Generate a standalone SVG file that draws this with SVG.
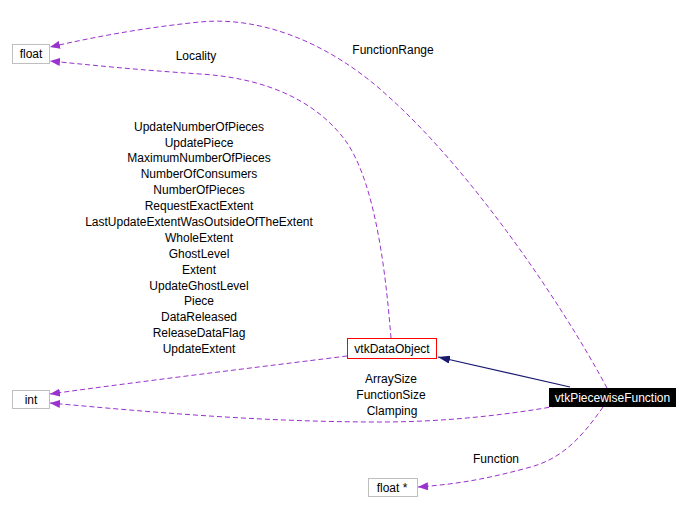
<svg xmlns="http://www.w3.org/2000/svg" width="693" height="513" viewBox="0 0 693 513">
<defs>
<style>
text{font-family:"Liberation Sans",Arial,sans-serif;font-size:12px;fill:#000;text-anchor:middle}
.box{fill:#fff;stroke:#bfbfbf;stroke-width:1}
.dash{fill:none;stroke:#9a32cd;stroke-width:1;stroke-dasharray:5,3}
.solid{fill:none;stroke:#191970;stroke-width:1.2}
</style>
<marker id="pa" viewBox="0 0 10 8" refX="10" refY="4" markerWidth="10" markerHeight="8" markerUnits="userSpaceOnUse" orient="auto"><path d="M0,0 L10,4 L0,8 Z" fill="#9a32cd"/></marker>
<marker id="na" viewBox="0 0 12 8" refX="12" refY="4" markerWidth="12" markerHeight="8" markerUnits="userSpaceOnUse" orient="auto"><path d="M0,0 L12,4 L0,8 Z" fill="#191970"/></marker>
</defs>
<rect width="693" height="513" fill="#fff"/>
<g id="connectors">
<path class="solid" d="M570,387 L438,357" marker-end="url(#na)"/>
<path class="dash" d="M607,388 C560,300 470,170 390,98 C330,42 260,16 200,22 C140,28 90,38 50,47" marker-end="url(#pa)"/>
<path class="dash" d="M391,338 C387,290 378,185 345,140 C315,100 265,78 200,74 C140,70 100,66 50,61" marker-end="url(#pa)"/>
<path class="dash" d="M347,356 C300,362 150,380 50,394" marker-end="url(#pa)"/>
<path class="dash" d="M557,406 C500,416 440,422 380,422 C260,422 150,412 50,403" marker-end="url(#pa)"/>
<path class="dash" d="M603,407 C580,440 560,460 527,468 C490,478 460,484 418,487" marker-end="url(#pa)"/>
<text x="393" y="54">FunctionRange</text>
<text x="196" y="60">Locality</text>
<text x="199" y="131">UpdateNumberOfPieces</text>
<text x="199" y="147">UpdatePiece</text>
<text x="199" y="162">MaximumNumberOfPieces</text>
<text x="199" y="178">NumberOfConsumers</text>
<text x="199" y="194">NumberOfPieces</text>
<text x="199" y="210">RequestExactExtent</text>
<text x="199" y="226">LastUpdateExtentWasOutsideOfTheExtent</text>
<text x="199" y="242">WholeExtent</text>
<text x="199" y="258">GhostLevel</text>
<text x="199" y="274">Extent</text>
<text x="199" y="290">UpdateGhostLevel</text>
<text x="199" y="305">Piece</text>
<text x="199" y="321">DataReleased</text>
<text x="199" y="337">ReleaseDataFlag</text>
<text x="199" y="353">UpdateExtent</text>
<text x="391" y="383">ArraySize</text>
<text x="391" y="399">FunctionSize</text>
<text x="392" y="415">Clamping</text>
<text x="496" y="463">Function</text>
</g>
<g id="node-float"><rect class="box" x="12.5" y="44.5" width="37" height="19"/><text x="31" y="58">float</text></g>
<g id="node-int"><rect class="box" x="12.5" y="390.5" width="37" height="18"/><text x="31" y="404">int</text></g>
<g id="node-floatptr"><rect class="box" x="368.5" y="478.5" width="49" height="18"/><text x="392" y="492">float *</text></g>
<g id="node-vtkDataObject"><rect x="347.5" y="338.5" width="89" height="20" fill="#fff" stroke="#ff0000"/><text x="392" y="352.5">vtkDataObject</text></g>
<g id="node-vtkPiecewiseFunction"><rect x="549" y="388" width="127" height="19" fill="#000"/><text x="612.5" y="401.5" style="fill:#fff">vtkPiecewiseFunction</text></g>
</svg>
